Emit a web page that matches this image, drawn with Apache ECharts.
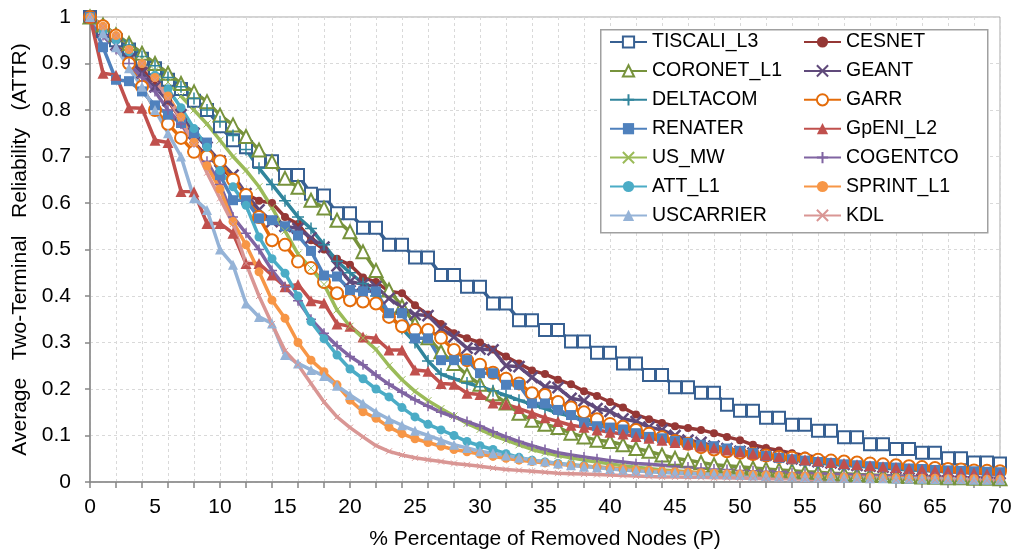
<!DOCTYPE html>
<html>
<head>
<meta charset="utf-8">
<script src="https://cdn.jsdelivr.net/npm/echarts@6/dist/echarts.min.js"></script>
<style>html,body{margin:0;padding:0;background:#fff}#c{width:1016px;height:556px}</style>
</head>
<body>
<div id="c"></div>
<script>
const P = [0,1,2,3,4,5,6,7,8,9,10,11,12,13,14,15,16,17,18,19,20,21,22,23,24,25,26,27,28,29,30,31,32,33,34,35,36,37,38,39,40,41,42,43,44,45,46,47,48,49,50,51,52,53,54,55,56,57,58,59,60,61,62,63,64,65,66,67,68,69,70];

const TISCALI_L3 = [1.0,0.97,0.95,0.93,0.91,0.89,0.865,0.845,0.82,0.80,0.765,0.735,0.72,0.69,0.69,0.66,0.66,0.62,0.616,0.578,0.578,0.547,0.547,0.51,0.51,0.483,0.483,0.445,0.445,0.42,0.42,0.384,0.384,0.348,0.348,0.327,0.327,0.302,0.302,0.278,0.278,0.255,0.255,0.23,0.23,0.204,0.204,0.192,0.192,0.166,0.153,0.153,0.138,0.138,0.123,0.123,0.11,0.11,0.096,0.096,0.081,0.081,0.071,0.071,0.063,0.063,0.051,0.051,0.042,0.042,0.04];
const CESNET = [1.0,0.97,0.95,0.92,0.89,0.86,0.82,0.78,0.73,0.70,0.68,0.65,0.62,0.605,0.60,0.57,0.555,0.52,0.50,0.48,0.467,0.44,0.43,0.41,0.406,0.38,0.36,0.34,0.32,0.309,0.30,0.285,0.27,0.255,0.24,0.232,0.22,0.21,0.195,0.185,0.172,0.16,0.145,0.135,0.127,0.12,0.116,0.112,0.105,0.097,0.09,0.08,0.073,0.068,0.062,0.057,0.053,0.049,0.045,0.042,0.039,0.036,0.034,0.031,0.029,0.027,0.025,0.023,0.022,0.02,0.019];
const CORONET_L1 = [1.0,0.983,0.962,0.943,0.922,0.90,0.879,0.857,0.839,0.818,0.789,0.768,0.743,0.714,0.689,0.653,0.634,0.606,0.589,0.563,0.538,0.495,0.455,0.413,0.378,0.34,0.31,0.28,0.255,0.23,0.21,0.19,0.17,0.148,0.133,0.124,0.117,0.105,0.097,0.09,0.087,0.08,0.072,0.066,0.058,0.051,0.047,0.042,0.037,0.035,0.033,0.03,0.028,0.026,0.024,0.022,0.021,0.019,0.018,0.016,0.015,0.014,0.013,0.012,0.011,0.01,0.009,0.009,0.008,0.008,0.007];
const GEANT = [1.0,0.97,0.94,0.91,0.88,0.85,0.82,0.79,0.75,0.72,0.69,0.66,0.62,0.585,0.56,0.55,0.545,0.525,0.505,0.465,0.431,0.425,0.42,0.395,0.375,0.36,0.358,0.33,0.312,0.288,0.286,0.284,0.25,0.248,0.225,0.205,0.203,0.18,0.175,0.158,0.152,0.136,0.13,0.118,0.112,0.1,0.09,0.085,0.077,0.072,0.066,0.062,0.058,0.054,0.05,0.047,0.044,0.041,0.038,0.036,0.034,0.032,0.03,0.028,0.026,0.024,0.023,0.022,0.02,0.019,0.018];
const DELTACOM = [1.0,0.98,0.96,0.94,0.915,0.895,0.87,0.85,0.825,0.80,0.775,0.745,0.715,0.675,0.64,0.605,0.57,0.545,0.51,0.475,0.45,0.427,0.40,0.36,0.33,0.30,0.26,0.232,0.222,0.213,0.205,0.196,0.186,0.176,0.167,0.158,0.148,0.142,0.135,0.128,0.12,0.113,0.106,0.1,0.094,0.088,0.082,0.077,0.072,0.067,0.062,0.058,0.054,0.05,0.047,0.044,0.041,0.038,0.036,0.034,0.032,0.03,0.028,0.026,0.025,0.023,0.022,0.021,0.019,0.018,0.017];
const GARR = [1.0,0.98,0.96,0.9,0.85,0.8,0.77,0.74,0.71,0.70,0.69,0.65,0.617,0.57,0.52,0.51,0.474,0.46,0.43,0.406,0.391,0.388,0.384,0.355,0.335,0.327,0.327,0.31,0.284,0.262,0.252,0.235,0.222,0.212,0.191,0.187,0.172,0.16,0.15,0.135,0.125,0.119,0.112,0.104,0.096,0.088,0.082,0.075,0.07,0.066,0.063,0.06,0.057,0.054,0.052,0.05,0.048,0.046,0.044,0.042,0.04,0.038,0.036,0.034,0.032,0.03,0.028,0.027,0.025,0.024,0.023];
const RENATER = [1.0,0.935,0.865,0.862,0.84,0.81,0.79,0.772,0.75,0.73,0.66,0.606,0.606,0.567,0.563,0.55,0.53,0.497,0.444,0.442,0.413,0.41,0.41,0.363,0.363,0.309,0.309,0.262,0.262,0.262,0.234,0.234,0.209,0.209,0.169,0.169,0.155,0.144,0.128,0.12,0.117,0.113,0.105,0.097,0.094,0.088,0.084,0.08,0.077,0.072,0.067,0.062,0.056,0.052,0.049,0.046,0.043,0.041,0.038,0.036,0.034,0.032,0.031,0.029,0.028,0.026,0.025,0.024,0.023,0.022,0.021];
const GpENI_L2 = [1.0,0.879,0.875,0.805,0.804,0.735,0.73,0.625,0.624,0.556,0.556,0.535,0.47,0.47,0.445,0.42,0.425,0.39,0.385,0.34,0.335,0.312,0.309,0.284,0.284,0.241,0.238,0.212,0.21,0.191,0.188,0.17,0.167,0.158,0.148,0.138,0.13,0.122,0.118,0.112,0.107,0.103,0.098,0.094,0.09,0.085,0.081,0.077,0.073,0.069,0.065,0.061,0.058,0.055,0.051,0.048,0.045,0.042,0.04,0.037,0.035,0.033,0.031,0.029,0.027,0.025,0.023,0.021,0.02,0.018,0.017];
const US_MW = [1.0,0.98,0.955,0.93,0.91,0.885,0.86,0.83,0.8,0.77,0.735,0.70,0.67,0.635,0.59,0.54,0.49,0.46,0.425,0.37,0.335,0.31,0.285,0.25,0.22,0.195,0.175,0.158,0.142,0.126,0.113,0.1,0.09,0.08,0.07,0.063,0.057,0.052,0.047,0.043,0.039,0.035,0.032,0.029,0.026,0.024,0.022,0.02,0.018,0.016,0.015,0.014,0.013,0.012,0.011,0.01,0.009,0.009,0.008,0.008,0.007,0.007,0.006,0.006,0.006,0.005,0.005,0.005,0.004,0.004,0.004];
const COGENTCO = [1.0,0.96,0.93,0.9,0.87,0.84,0.8,0.77,0.73,0.69,0.64,0.57,0.535,0.5,0.455,0.42,0.39,0.35,0.32,0.293,0.27,0.252,0.23,0.21,0.193,0.177,0.163,0.15,0.14,0.13,0.12,0.108,0.097,0.087,0.078,0.07,0.063,0.058,0.054,0.05,0.046,0.043,0.04,0.038,0.036,0.034,0.032,0.03,0.028,0.027,0.025,0.024,0.023,0.022,0.02,0.019,0.018,0.017,0.016,0.015,0.014,0.013,0.013,0.012,0.011,0.01,0.01,0.009,0.009,0.008,0.008];
const ATT_L1 = [1.0,0.97,0.95,0.925,0.90,0.875,0.845,0.805,0.76,0.72,0.67,0.635,0.595,0.527,0.48,0.449,0.40,0.345,0.308,0.273,0.243,0.222,0.2,0.183,0.16,0.14,0.124,0.112,0.1,0.087,0.078,0.07,0.061,0.053,0.047,0.043,0.04,0.037,0.035,0.032,0.03,0.027,0.025,0.023,0.021,0.02,0.019,0.018,0.017,0.016,0.016,0.015,0.014,0.013,0.012,0.011,0.011,0.01,0.009,0.009,0.008,0.008,0.007,0.007,0.006,0.006,0.005,0.005,0.005,0.004,0.004];
const SPRINT_L1 = [1.0,0.98,0.96,0.93,0.9,0.87,0.83,0.785,0.73,0.68,0.63,0.56,0.51,0.452,0.391,0.352,0.3,0.262,0.237,0.209,0.176,0.151,0.137,0.118,0.104,0.093,0.085,0.077,0.07,0.065,0.06,0.055,0.051,0.047,0.044,0.041,0.038,0.036,0.034,0.032,0.03,0.028,0.026,0.025,0.023,0.022,0.021,0.02,0.019,0.018,0.017,0.016,0.015,0.014,0.013,0.013,0.012,0.011,0.011,0.01,0.01,0.009,0.009,0.008,0.008,0.008,0.007,0.007,0.007,0.006,0.006];
const USCARRIER = [1.0,0.965,0.935,0.89,0.85,0.8,0.75,0.7,0.61,0.585,0.5,0.467,0.384,0.355,0.341,0.273,0.255,0.241,0.228,0.207,0.187,0.169,0.15,0.135,0.122,0.11,0.1,0.09,0.08,0.073,0.066,0.062,0.057,0.052,0.047,0.044,0.04,0.036,0.033,0.031,0.028,0.026,0.024,0.022,0.021,0.02,0.019,0.018,0.017,0.016,0.015,0.014,0.013,0.012,0.012,0.011,0.01,0.01,0.009,0.009,0.008,0.008,0.007,0.007,0.007,0.006,0.006,0.006,0.005,0.005,0.005];
const KDL = [1.0,0.98,0.96,0.93,0.9,0.865,0.825,0.78,0.725,0.665,0.61,0.555,0.47,0.4,0.34,0.282,0.252,0.212,0.172,0.14,0.117,0.097,0.078,0.066,0.058,0.052,0.048,0.044,0.04,0.037,0.034,0.03,0.027,0.025,0.023,0.021,0.019,0.018,0.017,0.016,0.015,0.014,0.013,0.012,0.011,0.011,0.01,0.01,0.009,0.009,0.008,0.008,0.007,0.007,0.007,0.006,0.006,0.006,0.005,0.005,0.005,0.005,0.004,0.004,0.004,0.004,0.003,0.003,0.003,0.003,0.003];

const LEGEND_COL1 = ['TISCALI_L3','CORONET_L1','DELTACOM','RENATER','US_MW','ATT_L1','USCARRIER'];
const LEGEND_COL2 = ['CESNET','GEANT','GARR','GpENI_L2','COGENTCO','SPRINT_L1','KDL'];
const X_NAME = '% Percentage of Removed Nodes (P)';
const Y_NAME = 'Average   Two-Terminal   Reliability   (ATTR)';

const XMARK = 'path://M0,0L10,10M10,0L0,10';
const PLUS = 'path://M5,0L5,10M0,5L10,5';

const defs = [
  ['TISCALI_L3', TISCALI_L3, '#376092', 'emptyRect', 12, 2.5],
  ['CESNET', CESNET, '#953735', 'circle', 8, 0],
  ['CORONET_L1', CORONET_L1, '#77933C', 'emptyTriangle', 13, 2.5],
  ['GEANT', GEANT, '#604A7B', XMARK, 11, 2.5],
  ['DELTACOM', DELTACOM, '#31859C', PLUS, 12, 1.5],
  ['GARR', GARR, '#E46C0A', 'emptyCircle', 12, 2.5],
  ['RENATER', RENATER, '#4F81BD', 'rect', 10, 0],
  ['GpENI_L2', GpENI_L2, '#C0504D', 'triangle', 11, 0],
  ['US_MW', US_MW, '#9BBB59', XMARK, 7, 1],
  ['COGENTCO', COGENTCO, '#8064A2', PLUS, 10, 1.5],
  ['ATT_L1', ATT_L1, '#4BACC6', 'circle', 9, 0],
  ['SPRINT_L1', SPRINT_L1, '#F79646', 'circle', 9, 0],
  ['USCARRIER', USCARRIER, '#95B3D7', 'triangle', 10, 0],
  ['KDL', KDL, '#D99694', XMARK, 6, 1]
];

const FONT = 'Liberation Sans, Arial, sans-serif';

const series = defs.map(d => {
  const isPath = d[3].indexOf('path://') === 0;
  return {
    name: d[0], type: 'line', data: d[1],
    symbol: d[3], symbolSize: d[4], showAllSymbol: true,
    lineStyle: { width: 3.5, color: d[2] },
    itemStyle: isPath ? { color: d[2], borderColor: d[2], borderWidth: d[5] }
                      : (d[5] ? { color: d[2], borderWidth: d[5] } : { color: d[2] }),
    emphasis: { disabled: true },
    animation: false
  };
});

const chart = echarts.init(document.getElementById('c'), null, { renderer: 'canvas' });
chart.setOption({
  backgroundColor: '#fff',
  animation: false,
  grid: { left: 90, right: 16, top: 17, bottom: 74, show: true, borderColor: '#a6a6a6', borderWidth: 1, outerBoundsMode: 'none' },
  xAxis: {
    type: 'category', data: P, boundaryGap: false,
    axisLine: { lineStyle: { color: '#868686', width: 1.5 } },
    axisTick: { interval: 1, length: 6, lineStyle: { color: '#868686', width: 1.5 } },
    axisLabel: { interval: 4, fontSize: 21, color: '#000', margin: 15, fontFamily: FONT },
    splitLine: { show: true, interval: 1, lineStyle: { color: '#d9d9d9', type: [3, 3], width: 1 } },
    name: X_NAME, nameLocation: 'middle', nameGap: 47,
    nameTextStyle: { fontSize: 21, color: '#000', fontFamily: FONT }
  },
  yAxis: {
    type: 'value', min: 0, max: 1, interval: 0.1,
    axisLine: { show: true, lineStyle: { color: '#868686', width: 1.5 } },
    axisTick: { show: true, length: 5, lineStyle: { color: '#868686', width: 1.5 } },
    axisLabel: { fontSize: 21, color: '#000', margin: 19, fontFamily: FONT },
    splitLine: { show: true, lineStyle: { color: '#d9d9d9', type: [3, 3], width: 1 } },
    name: Y_NAME, nameLocation: 'middle', nameGap: 54,
    nameTextStyle: { fontSize: 21, color: '#000', fontFamily: FONT }
  },
  graphic: [{
    type: 'rect', left: 600, top: 29, z: 1,
    shape: { width: 387, height: 203 },
    style: { fill: '#fff', stroke: '#a0a0a0', lineWidth: 1.5 }
  }],
  legend: [
    { data: LEGEND_COL1, left: 609, top: 32, orient: 'vertical', padding: 0, itemWidth: 37, itemHeight: 14, itemGap: 8.9,
      textStyle: { fontSize: 19.5, lineHeight: 20, color: '#000', fontFamily: FONT } },
    { data: LEGEND_COL2, left: 803, top: 32, orient: 'vertical', padding: 0, itemWidth: 37, itemHeight: 14, itemGap: 8.9,
      textStyle: { fontSize: 19.5, lineHeight: 20, color: '#000', fontFamily: FONT } }
  ],
  series: series
});
</script>
</body>
</html>
